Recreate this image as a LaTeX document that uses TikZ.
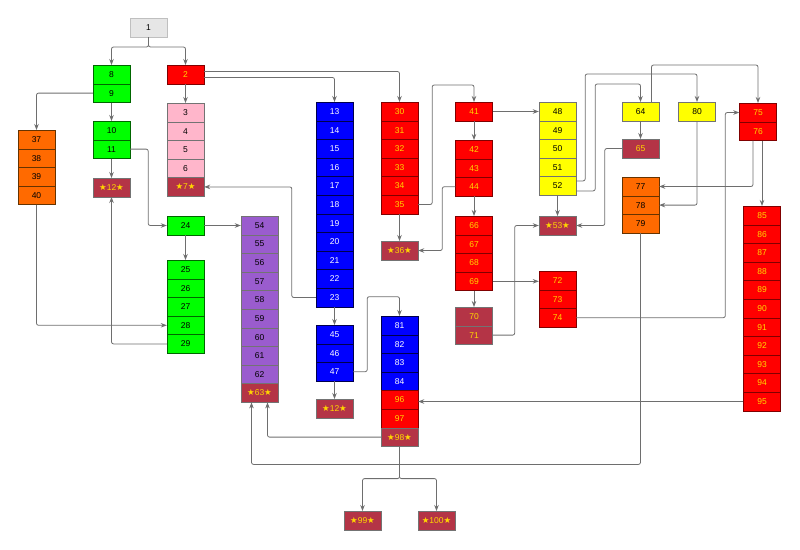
\documentclass[tikz,border=0pt]{standalone}
\usepackage{fontspec}
\setmainfont{Liberation Sans}
\newfontfamily\symfont{DejaVu Sans}
\usetikzlibrary{arrows.meta}
\newcommand{\st}{{\symfont ★}}
\definecolor{Cgreen}{RGB}{0,255,0}
\definecolor{Cred}{RGB}{255,0,0}
\definecolor{Cpink}{RGB}{255,182,203}
\definecolor{Cblue}{RGB}{0,0,255}
\definecolor{Cpurple}{RGB}{154,92,206}
\definecolor{Corange}{RGB}{255,106,0}
\definecolor{Cyellow}{RGB}{255,255,0}
\definecolor{Cdark}{RGB}{180,52,70}
\definecolor{Cgray}{RGB}{230,230,230}
\definecolor{Ctext}{RGB}{255,215,0}
\definecolor{Cline}{RGB}{110,110,110}
\tikzset{
  cell/.style={draw=black!55, anchor=north, minimum width=37pt, minimum height=18.6pt, inner sep=0pt, font=\fontsize{8.5}{9}\selectfont},
  greencell/.style={cell, fill=Cgreen, draw=green!40!black},
  redcell/.style={cell, fill=Cred, text=Ctext, draw=red!50!black},
  pinkcell/.style={cell, fill=Cpink},
  bluecell/.style={cell, fill=Cblue, text=white, draw=blue!30!black},
  purplecell/.style={cell, fill=Cpurple},
  orangecell/.style={cell, fill=Corange, draw=orange!40!black},
  yellowcell/.style={cell, fill=Cyellow},
  darkcell/.style={cell, fill=Cdark, text=Ctext},
  graycell/.style={cell, fill=Cgray, draw=black!25},
  edge/.style={draw=Cline, line width=0.8pt, rounded corners=2pt, -{Stealth[length=6pt,width=4.5pt]}}
}
\begin{document}
\begin{tikzpicture}[x=1pt,y=-1pt]
\useasboundingbox (0,0) rectangle (800,549);
% cells
\node[graycell] (n1) at (148.5,18) {1};
\foreach \n [count=\i from 0] in {8,9} \node[greencell] (n\n) at (111.5,65+18.6*\i) {\n};
\node[redcell] (n2) at (185.5,65) {2};
\foreach \n [count=\i from 0] in {3,4,5,6} \node[pinkcell] (n\n) at (185.5,103+18.6*\i) {\n};
\node[darkcell] (s7) at (185.5,177.4) {\st7\st};
\foreach \n [count=\i from 0] in {10,11} \node[greencell] (n\n) at (111.5,121+18.6*\i) {\n};
\node[darkcell] (s12a) at (111.5,178) {\st12\st};
\foreach \n [count=\i from 0] in {37,38,39,40} \node[orangecell] (n\n) at (36.5,130+18.6*\i) {\n};
\foreach \n [count=\i from 0] in {13,...,23} \node[bluecell] (n\n) at (334.5,102+18.6*\i) {\n};
\foreach \n [count=\i from 0] in {30,...,35} \node[redcell] (n\n) at (399.5,102+18.6*\i) {\n};
\node[darkcell] (s36) at (399.5,241) {\st36\st};
\node[greencell] (n24) at (185.5,216) {24};
\foreach \n [count=\i from 0] in {25,...,29} \node[greencell] (n\n) at (185.5,260+18.6*\i) {\n};
\foreach \n [count=\i from 0] in {54,...,62} \node[purplecell] (n\n) at (259.5,216+18.6*\i) {\n};
\node[darkcell] (s63) at (259.5,383.4) {\st63\st};
\foreach \n [count=\i from 0] in {45,46,47} \node[bluecell] (n\n) at (334.5,325+18.6*\i) {\n};
\node[darkcell] (s12b) at (334.5,399) {\st12\st};
\foreach \n [count=\i from 0] in {81,...,84} \node[bluecell] (n\n) at (399.5,316+18.6*\i) {\n};
\foreach \n [count=\i from 4] in {96,97} \node[redcell] (n\n) at (399.5,316+18.6*\i) {\n};
\node[darkcell] (s98) at (399.5,427.6) {\st98\st};
\node[darkcell] (s99) at (362.5,511) {\st99\st};
\node[darkcell] (s100) at (436.5,511) {\st100\st};
\node[redcell] (n41) at (474,102) {41};
\foreach \n [count=\i from 0] in {42,43,44} \node[redcell] (n\n) at (474,140+18.6*\i) {\n};
\foreach \n [count=\i from 0] in {66,...,69} \node[redcell] (n\n) at (474,216+18.6*\i) {\n};
\foreach \n [count=\i from 0] in {70,71} \node[darkcell] (n\n) at (474,307+18.6*\i) {\n};
\foreach \n [count=\i from 0] in {48,...,52} \node[yellowcell] (n\n) at (557.5,102+18.6*\i) {\n};
\node[darkcell] (s53) at (557.5,216) {\st53\st};
\foreach \n [count=\i from 0] in {72,73,74} \node[redcell] (n\n) at (557.5,271+18.6*\i) {\n};
\node[yellowcell] (n64) at (640.5,102) {64};
\node[darkcell] (n65) at (640.5,139) {65};
\foreach \n [count=\i from 0] in {77,78,79} \node[orangecell] (n\n) at (640.5,177+18.6*\i) {\n};
\node[yellowcell] (n80) at (697,102) {80};
\foreach \n [count=\i from 0] in {75,76} \node[redcell] (n\n) at (758,103+18.6*\i) {\n};
\foreach \n [count=\i from 0] in {85,...,95} \node[redcell] (n\n) at (762,206+18.6*\i) {\n};
% connectors
\draw[edge] (n1.south) -- ++(0,10) -| (n8.north);
\draw[edge] (n1.south) -- ++(0,10) -| (n2.north);
\draw[edge] (n2.south) -- (n3.north);
\draw[edge] ([yshift=3]n2.east) -| (n30.north);
\draw[edge] ([yshift=-3]n2.east) -| (n13.north);
\draw[edge] (n9.west) -| (n37.north);
\draw[edge] (n9.south) -- (n10.north);
\draw[edge] (n11.south) -- (s12a.north);
\draw[edge] (n11.east) -- ++(18,0) |- (n24.west);
\draw[edge] (n24.east) -- (n54.west);
\draw[edge] (n24.south) -- (n25.north);
\draw[edge] (n40.south) |- (n28.west);
\draw[edge] (n29.west) -| (s12a.south);
\draw[edge] (n23.west) -- ++(-24,0) |- (s7.east);
\draw[edge] (n23.south) -- (n45.north);
\draw[edge] (n47.south) -- (s12b.north);
\draw[edge] (n47.east) -- ++(14,0) -- ++(0,-75) -| (n81.north);
\draw[edge] (n35.south) -- (s36.north);
\draw[edge] (n35.east) -- ++(14,0) |- ([yshift=17]n41.north) -- (n41.north);
\draw[edge] (n41.east) -- (n41.east -| n48.west);
\draw[edge] (n41.south) -- (n42.north);
\draw[edge] (n44.west) -- ++(-13,0) |- (s36.east);
\draw[edge] (n44.south) -- (n66.north);
\draw[edge] (n69.south) -- (n70.north);
\draw[edge] (n69.east) -- (n69.east -| n72.west);
\draw[edge] (n71.east) -- ++(22,0) |- (s53.west);
\draw[edge] (n52.south) -- (s53.north);
\draw[edge] ([yshift=5]n52.east) -- ++(9,0) |- ([yshift=28]n80.north) -- (n80.north);
\draw[edge] ([yshift=-5]n52.east) -- ++(19,0) |- ([yshift=18]n64.north) -- (n64.north);
\draw[edge] (n64.south) -- (n65.north);
\draw[edge] ([xshift=11]n64.north) -- ++(0,-37) -| (n75.north);
\draw[edge] (n65.west) -- ++(-17,0) |- (s53.east);
\draw[edge] (n80.south) |- (n78.east);
\draw[edge] ([xshift=-5]n76.south) |- (n77.east);
\draw[edge] (n85.north |- n76.south) -- (n85.north);
\draw[edge] (n74.east) -| ([xshift=-14]n75.west) -- (n75.west);
\draw[edge] (n95.west) -- (n95.west -| n96.east);
\draw[edge] (n79.south) |- ([xshift=-8,yshift=-62]s63.south) -- ([xshift=-8]s63.south);
\draw[edge] (s98.west) -| ([xshift=8]s63.south);
\draw[edge] (s98.south) -- ++(0,32) -| (s99.north);
\draw[edge] (s98.south) -- ++(0,32) -| (s100.north);
\end{tikzpicture}
\end{document}
